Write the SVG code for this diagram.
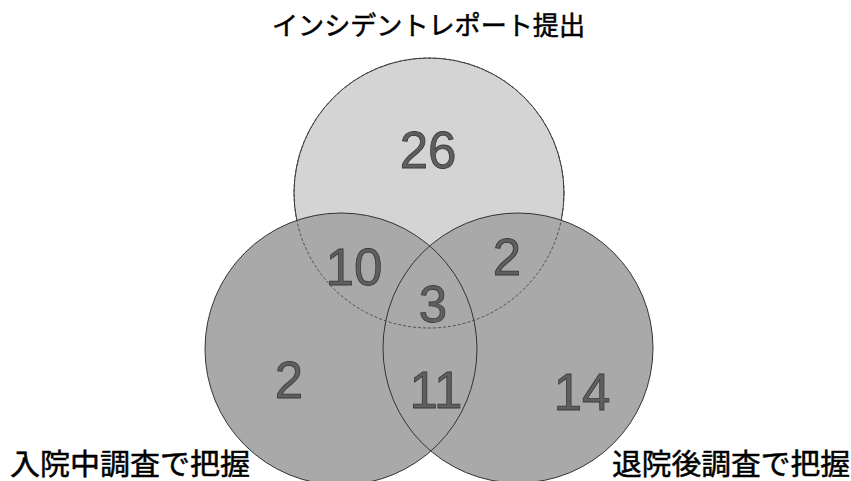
<svg xmlns="http://www.w3.org/2000/svg" width="851" height="481" viewBox="0 0 851 481">
<defs>
<style>
.lbl{font-family:"Liberation Sans","Noto Sans CJK JP",sans-serif;fill:#000;stroke:#000;stroke-width:0.5;}
.num{font-family:"Liberation Sans",Arial,sans-serif;font-size:51px;fill:#5f5f5f;stroke:#3a3a3a;stroke-width:0.8;text-anchor:middle;}
.top{fill:#d4d4d4;stroke:#333;stroke-width:1;}
.side{fill:#a9a9a9;stroke:none;}
.edge{fill:none;stroke:#333;stroke-width:1;}
.edge-top{fill:none;stroke:#444;stroke-width:0.9;stroke-dasharray:3 2;}
</style>
</defs>
<rect width="851" height="481" fill="#fff"/>
<g id="circle-incident"><circle class="top" cx="429" cy="193" r="135"/></g>
<g id="circle-inpatient"><circle class="side" cx="341" cy="349" r="136"/></g>
<g id="circle-discharge"><circle class="side" cx="518" cy="348" r="135"/></g>
<g id="outlines">
<circle class="edge-top" cx="429" cy="193" r="135"/>
<circle class="edge" cx="341" cy="349" r="136"/>
<circle class="edge" cx="518" cy="348" r="135"/>
</g>
<g id="connectors"></g>
<g id="counts">
<text class="num" x="428" y="168">26</text>
<text class="num" x="354" y="285">10</text>
<text class="num" x="507" y="275">2</text>
<text class="num" x="433" y="322">3</text>
<text class="num" x="289" y="398">2</text>
<text class="num" x="436" y="408">11</text>
<text class="num" x="582" y="410">14</text>
</g>
<g id="labels">
<text class="lbl" x="272" y="35" font-size="26" textLength="313" lengthAdjust="spacingAndGlyphs">インシデントレポート提出</text>
<text class="lbl" x="10" y="475" font-size="29" textLength="240" lengthAdjust="spacingAndGlyphs">入院中調査で把握</text>
<text class="lbl" x="612" y="475" font-size="29" textLength="238" lengthAdjust="spacingAndGlyphs">退院後調査で把握</text>
</g>
</svg>
